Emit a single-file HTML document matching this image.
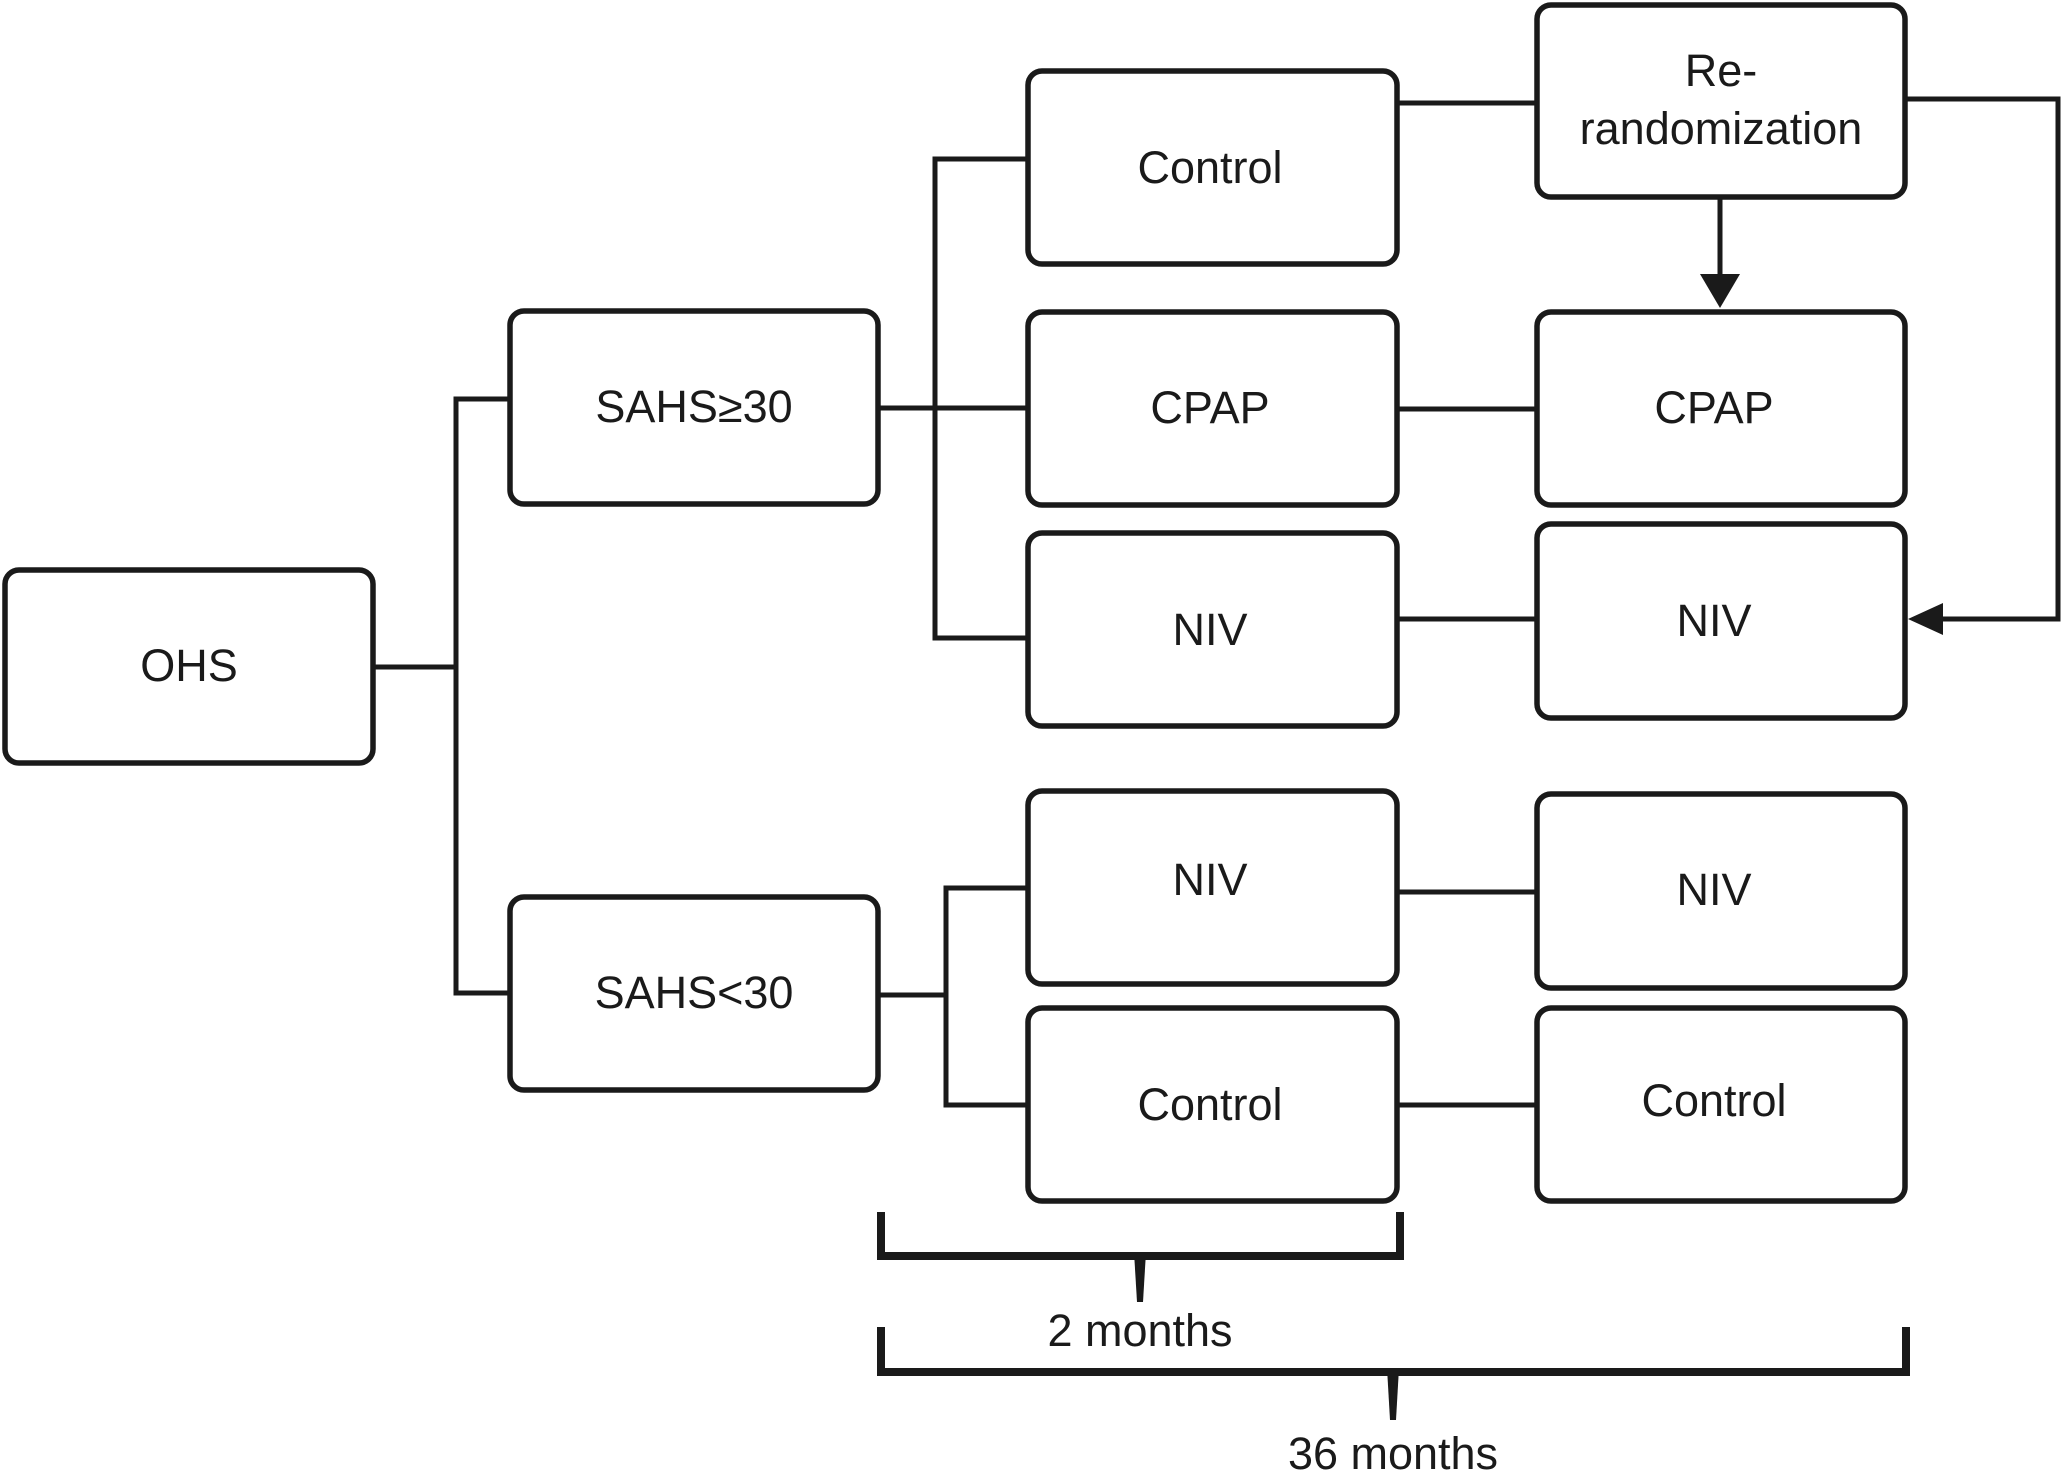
<!DOCTYPE html>
<html><head><meta charset="utf-8"><style>
html,body{margin:0;padding:0;background:#fff;}
svg{display:block;}
text{font-family:"Liberation Sans",Arial,sans-serif;font-size:45px;fill:#1a1a1a;text-anchor:middle;}
</style></head><body>
<svg width="2062" height="1481" viewBox="0 0 2062 1481" xmlns="http://www.w3.org/2000/svg">
<g fill="#fff" stroke="#1a1a1a" stroke-width="5.5">
<rect x="5" y="570" width="368" height="193" rx="14"/>
<rect x="510" y="311" width="368" height="193" rx="14"/>
<rect x="510" y="897" width="368" height="193" rx="14"/>
<rect x="1028" y="71" width="369" height="193" rx="14"/>
<rect x="1028" y="312" width="369" height="193" rx="14"/>
<rect x="1028" y="533" width="369" height="193" rx="14"/>
<rect x="1028" y="791" width="369" height="193" rx="14"/>
<rect x="1028" y="1008" width="369" height="193" rx="14"/>
<rect x="1537" y="5" width="368" height="192" rx="14"/>
<rect x="1537" y="312" width="368" height="193" rx="14"/>
<rect x="1537" y="524" width="368" height="194" rx="14"/>
<rect x="1537" y="794" width="368" height="194" rx="14"/>
<rect x="1537" y="1008" width="368" height="193" rx="14"/>
</g>
<g fill="none" stroke="#1a1a1a" stroke-width="5">
<polyline points="373,667 456,667"/>
<polyline points="510,399 456,399 456,993 510,993"/>
<polyline points="878,408 1028,408"/>
<polyline points="1028,159 935,159 935,638 1028,638"/>
<polyline points="878,995 946,995"/>
<polyline points="1028,888 946,888 946,1105 1028,1105"/>
<line x1="1397" y1="103" x2="1537" y2="103"/>
<line x1="1397" y1="409" x2="1537" y2="409"/>
<line x1="1397" y1="619" x2="1537" y2="619"/>
<line x1="1397" y1="892" x2="1537" y2="892"/>
<line x1="1397" y1="1105" x2="1537" y2="1105"/>
<line x1="1720" y1="197" x2="1720" y2="275"/>
<polyline points="1905,99 2058,99 2058,619 1940,619"/>
</g>
<polygon points="1700,274 1740,274 1720,308" fill="#1a1a1a"/>
<polygon points="1908,619 1943,603 1943,635" fill="#1a1a1a"/>
<g fill="none" stroke="#1a1a1a" stroke-width="8">
<polyline points="881,1212 881,1256 1400,1256 1400,1212"/>
<polyline points="881,1327 881,1372 1906,1372 1906,1327"/>
</g>
<g fill="#1a1a1a">
<polygon points="1134,1252 1146,1252 1143,1302 1137,1302"/>
<polygon points="1387,1368 1399,1368 1396,1420 1390,1420"/>
</g>
<text x="189" y="681">OHS</text>
<text x="694" y="422">SAHS≥30</text>
<text x="694" y="1008">SAHS&lt;30</text>
<text x="1210" y="183">Control</text>
<text x="1210" y="423">CPAP</text>
<text x="1210" y="645">NIV</text>
<text x="1210" y="895">NIV</text>
<text x="1210" y="1120">Control</text>
<text x="1721" y="86">Re-</text>
<text x="1721" y="144">randomization</text>
<text x="1714" y="423">CPAP</text>
<text x="1714" y="636">NIV</text>
<text x="1714" y="905">NIV</text>
<text x="1714" y="1116">Control</text>
<text x="1140" y="1346">2 months</text>
<text x="1393" y="1469">36 months</text>
</svg>
</body></html>
